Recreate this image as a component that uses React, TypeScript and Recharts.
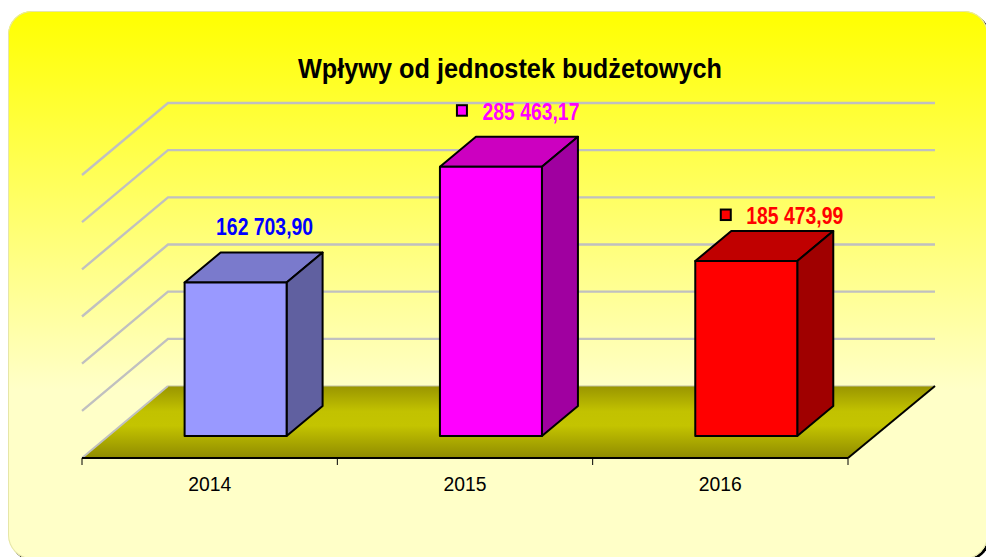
import React from "react";
import { BarChart, Bar, XAxis, YAxis, CartesianGrid, Cell, LabelList } from "recharts";

const categories = ["2014", "2015", "2016"];
const values = [162703.9, 285463.17, 185473.99];
const valueLabels = ["162 703,90", "285 463,17", "185 473,99"];
const yTicks = [0, 50000, 100000, 150000, 200000, 250000, 300000];
const title = "Wpływy od jednostek budżetowych";

const chartData = categories.map((year, i) => ({ year, value: values[i], text: valueLabels[i] }));

const FLOOR_DX = 86;
const FLOOR_DY = 72;
const BACK_EXTRA = 1;
const BAR_SHIFT_X = 26;
const BAR_SHIFT_Y = 22;
const BAR_DEPTH_X = 36;
const BAR_DEPTH_Y = 30;

const faces = [
  { front: "#9999ff", top: "#7a7acc", side: "#6060a0", label: "#0000ff", marker: false, dx: 55, dy: -70 },
  { front: "#ff00ff", top: "#cc00c0", side: "#a000a0", label: "#ff00ff", marker: true, dx: 66, dy: -69 },
  { front: "#ff0000", top: "#c00000", side: "#a00000", label: "#ff0000", marker: true, dx: 74.5, dy: -59 },
];

function gridLine(props: any) {
  const { x1, x2, y1, index } = props;
  const isBase = y1 > 440;
  const backY = y1 - FLOOR_DY;
  const backRight = x2 + FLOOR_DX + BACK_EXTRA;
  if (isBase) {
    return (
      <g key={"floor" + index}>
        <polygon
          points={`${x1},${y1} ${x1 + FLOOR_DX},${backY} ${backRight},${backY} ${x2},${y1}`}
          fill="url(#floorGrad)"
        />
        <line x1={x1} y1={y1} x2={x1 + FLOOR_DX} y2={backY} stroke="#c0c0c0" strokeWidth={2} />
        <line x1={x1 + FLOOR_DX} y1={backY} x2={backRight} y2={backY} stroke="#c0c0a0" strokeWidth={1} />
        <line x1={x2} y1={y1} x2={backRight} y2={backY} stroke="#000" strokeWidth={2} />
      </g>
    );
  }
  return (
    <polyline
      key={"grid" + index}
      points={`${x1},${y1} ${x1 + FLOOR_DX},${backY} ${backRight},${backY}`}
      fill="none"
      stroke="#c0c0c0"
      strokeWidth={2.4}
    />
  );
}

function Box3D(props: any) {
  const { x, y, width, height, index } = props;
  const f = faces[index];
  const l = x + BAR_SHIFT_X;
  const r = l + width;
  const t = y - BAR_SHIFT_Y;
  const b = t + height;
  const dx = BAR_DEPTH_X;
  const dy = BAR_DEPTH_Y;
  const stroke = { stroke: "#000", strokeWidth: 2, strokeLinejoin: "round" as const };
  return (
    <g>
      <polygon points={`${l},${t} ${l + dx},${t - dy} ${r + dx},${t - dy} ${r},${t}`} fill={f.top} {...stroke} />
      <polygon points={`${r},${t} ${r + dx},${t - dy} ${r + dx},${b - dy} ${r},${b}`} fill={f.side} {...stroke} />
      <rect x={l} y={t} width={width} height={height} fill={f.front} {...stroke} />
    </g>
  );
}

function ValueLabel(props: any) {
  const { x, y, width, index, value } = props;
  const f = faces[index];
  const cx = x + width / 2 + f.dx;
  const ty = y + f.dy;
  return (
    <g>
      {f.marker && (
        <rect x={cx - 74} y={ty - 14.5} width={10} height={10.5} fill={f.front} stroke="#000" strokeWidth={2} />
      )}
      <text
        x={cx}
        y={ty}
        textAnchor="middle"
        fontFamily="'Liberation Sans', Arial, sans-serif"
        fontWeight="bold"
        fontSize={23}
        textLength={97}
        lengthAdjust="spacingAndGlyphs"
        fill={f.label}
      >
        {value}
      </text>
    </g>
  );
}

function YearTick(props: any) {
  const { x, payload, index } = props;
  const half = payload.offset ?? 127.67;
  const top = 458;
  return (
    <g>
      <line x1={x - half} x2={x - half} y1={top} y2={top + 7} stroke="#000" strokeWidth={1} />
      {index === categories.length - 1 && (
        <line x1={x + half} x2={x + half} y1={top} y2={top + 7} stroke="#000" strokeWidth={1} />
      )}
      <text
        x={x}
        y={top + 33}
        textAnchor="middle"
        fontFamily="'Liberation Sans', Arial, sans-serif"
        fontSize={20}
        textLength={43}
        lengthAdjust="spacingAndGlyphs"
        fill="#000"
      >
        {payload.value}
      </text>
    </g>
  );
}

export default function App() {
  return (
    <div style={{ position: "absolute", left: 0, top: 0, width: 986, height: 557, background: "#fff", overflow: "hidden" }}>
      <div
        style={{
          position: "absolute",
          left: 8,
          top: 11,
          width: 980,
          height: 548,
          borderRadius: 24,
          background: "linear-gradient(180deg, #ffff00 0%, #ffffc8 69%, #ffffc8 100%)",
          boxShadow: "inset 0 0 0 1px #e6e6a8, 2px 2px 0 #000",
        }}
      />
      <svg width={986} height={557} style={{ position: "absolute", left: 0, top: 0 }}>
        <text
          x={510}
          y={78}
          textAnchor="middle"
          fontFamily="'Liberation Sans', Arial, sans-serif"
          fontWeight="bold"
          fontSize={27}
          textLength={424}
          lengthAdjust="spacingAndGlyphs"
          fill="#000"
        >
          {title}
        </text>
      </svg>
      <div style={{ position: "absolute", left: 0, top: 0 }}>
        <BarChart
          width={986}
          height={557}
          data={chartData}
          margin={{ left: 82, right: 138, top: 175, bottom: 0 }}
          barCategoryGap="30%"
        >
          <defs>
            <linearGradient id="floorGrad" x1="0" y1="0" x2="0" y2="1">
              <stop offset="0%" stopColor="#999500" />
              <stop offset="35%" stopColor="#c2c200" />
              <stop offset="55%" stopColor="#c4c400" />
              <stop offset="100%" stopColor="#8f8b00" />
            </linearGradient>
          </defs>
          <YAxis hide domain={[0, 300000]} ticks={yTicks} />
          <CartesianGrid vertical={false} horizontal={gridLine} horizontalValues={yTicks} />
          <XAxis
            dataKey="year"
            axisLine={{ stroke: "#000", strokeWidth: 2 }}
            tickLine={false}
            tick={YearTick}
            interval={0}
            height={99}
          />
          <Bar dataKey="value" shape={Box3D} isAnimationActive={false}>
            {chartData.map((d) => (
              <Cell key={d.year} />
            ))}
            <LabelList dataKey="text" content={ValueLabel} />
          </Bar>
        </BarChart>
      </div>
    </div>
  );
}
